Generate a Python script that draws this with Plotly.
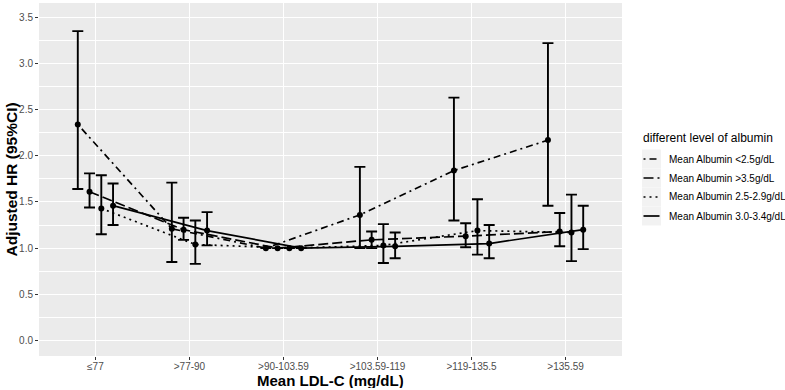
import plotly.graph_objects as go

categories = ["≤77", ">77-90", ">90-103.59", ">103.59-119", ">119-135.5", ">135.59"]
series_names = ["Mean Albumin <2.5g/dL", "Mean Albumin >3.5g/dL",
                "Mean Albumin 2.5-2.9g/dL", "Mean Albumin 3.0-3.4g/dL"]

hr_lt25 = [2.34, 1.21, 1.00, 1.36, 1.84, 2.17]
lo_lt25 = [1.64, 0.85, 1.00, 1.00, 1.30, 1.46]
hi_lt25 = [3.35, 1.71, 1.00, 1.88, 2.63, 3.22]

hr_gt35 = [1.61, 1.20, 1.00, 1.09, 1.13, 1.18]
lo_gt35 = [1.44, 1.09, 1.00, 1.00, 1.01, 1.02]
hi_gt35 = [1.81, 1.33, 1.00, 1.18, 1.27, 1.38]

hr_25_29 = [1.43, 1.04, 1.00, 1.03, 1.19, 1.17]
lo_25_29 = [1.15, 0.83, 1.00, 0.84, 0.93, 0.86]
hi_25_29 = [1.79, 1.30, 1.00, 1.26, 1.53, 1.58]

hr_30_34 = [1.46, 1.19, 1.00, 1.02, 1.05, 1.20]
lo_30_34 = [1.25, 1.03, 1.00, 0.89, 0.89, 0.99]
hi_30_34 = [1.70, 1.39, 1.00, 1.17, 1.25, 1.46]

y_ticks = [0.0, 0.5, 1.0, 1.5, 2.0, 2.5, 3.0, 3.5]

hrs = [hr_lt25, hr_gt35, hr_25_29, hr_30_34]
los = [lo_lt25, lo_gt35, lo_25_29, lo_30_34]
his = [hi_lt25, hi_gt35, hi_25_29, hi_30_34]
dashes = ["2px,4px,7px,4px", "10px,4px", "2px,4px", "solid"]

FONT = "Liberation Sans, Arial, sans-serif"
W, H = 785, 390
ML, MR, MT, MB = 39, 163, 3, 34
PW, PH = W - ML - MR, H - MT - MB

dodge_width = 0.5
n = len(series_names)
xpos = list(range(1, len(categories) + 1))

fig = go.Figure()
for i in range(n):
    off = -dodge_width / 2 + dodge_width / n * (i + 0.5)
    xs = [x + off for x in xpos]
    fig.add_trace(go.Scatter(
        x=xs, y=hrs[i], mode="lines+markers", name=series_names[i],
        showlegend=False,
        line=dict(color="black", width=1.7, dash=dashes[i]),
        marker=dict(color="black", size=6),
        error_y=dict(type="data", symmetric=False,
                     array=[h - v for h, v in zip(his[i], hrs[i])],
                     arrayminus=[v - l for v, l in zip(hrs[i], los[i])],
                     thickness=1.9, width=5.5, color="black"),
    ))


def px2x(px):
    return (px - ML) / PW


def py2y(py):
    return (MT + PH - py) / PH


shapes = []
annotations = []
# legend (manual, ggplot style)
annotations.append(dict(xref="paper", yref="paper", x=px2x(641), y=py2y(138),
                        xanchor="left", yanchor="middle", showarrow=False,
                        text="different level of albumin",
                        font=dict(family=FONT, size=12, color="black")))
key_top = 149.5
key_h = 19
for i, name in enumerate(series_names):
    y0 = key_top + i * key_h
    yc = y0 + key_h / 2
    shapes.append(dict(type="rect", xref="paper", yref="paper",
                       x0=px2x(642), x1=px2x(661), y0=py2y(y0), y1=py2y(y0 + key_h),
                       fillcolor="#F2F2F2", line=dict(width=0), layer="below"))
    shapes.append(dict(type="line", xref="paper", yref="paper",
                       x0=px2x(643.5), x1=px2x(659.5), y0=py2y(yc), y1=py2y(yc),
                       line=dict(color="black", width=1.7, dash=dashes[i])))
    annotations.append(dict(xref="paper", yref="paper", x=px2x(667), y=py2y(yc),
                            xanchor="left", yanchor="middle", showarrow=False,
                            text=name, font=dict(family=FONT, size=10, color="black")))

# axis titles
annotations.append(dict(xref="paper", yref="paper", x=0.5, y=py2y(389),
                        xanchor="center", yanchor="bottom", showarrow=False,
                        height=16, valign="middle", borderpad=0,
                        text="<b>Mean LDL-C (mg/dL)</b>",
                        font=dict(family=FONT, size=15, color="black")))
annotations.append(dict(xref="paper", yref="paper", x=px2x(11), y=0.5,
                        xanchor="center", yanchor="middle", showarrow=False,
                        textangle=-90, text="<b>Adjusted HR (95%CI)</b>",
                        font=dict(family=FONT, size=15.5, color="black")))

fig.update_layout(
    width=W, height=H,
    margin=dict(l=ML, r=MR, t=MT, b=MB, pad=0),
    paper_bgcolor="white", plot_bgcolor="#EBEBEB",
    font=dict(family=FONT, size=10, color="#4D4D4D"),
    shapes=shapes, annotations=annotations,
    showlegend=False,
)
fig.update_xaxes(
    range=[0.4, 6.6], tickmode="array", tickvals=xpos, ticktext=categories,
    showgrid=True, gridcolor="white", gridwidth=1.1, zeroline=False,
    ticks="outside", ticklen=3, tickwidth=1, tickcolor="#333333",
    tickfont=dict(family=FONT, size=10, color="#4D4D4D"),
    ticklabelstandoff=-2,
    showline=False, fixedrange=True,
)
fig.update_yaxes(
    range=[-0.168, 3.655], tickmode="array", tickvals=y_ticks,
    ticktext=[f"{v:.1f}" for v in y_ticks],
    showgrid=True, gridcolor="white", gridwidth=1.1, zeroline=False,
    ticks="outside", ticklen=3, tickwidth=1, tickcolor="#333333",
    tickfont=dict(family=FONT, size=10, color="#4D4D4D"),
    minor=dict(tickmode="array", tickvals=[0.25, 0.75, 1.25, 1.75, 2.25, 2.75, 3.25],
               showgrid=True, gridcolor="white", gridwidth=0.55, ticks=""),
    showline=False, fixedrange=True,
)

fig.write_html("out.html", config={"displayModeBar": False},
               post_script="document.body.style.margin='0';document.body.style.overflow='hidden';")
